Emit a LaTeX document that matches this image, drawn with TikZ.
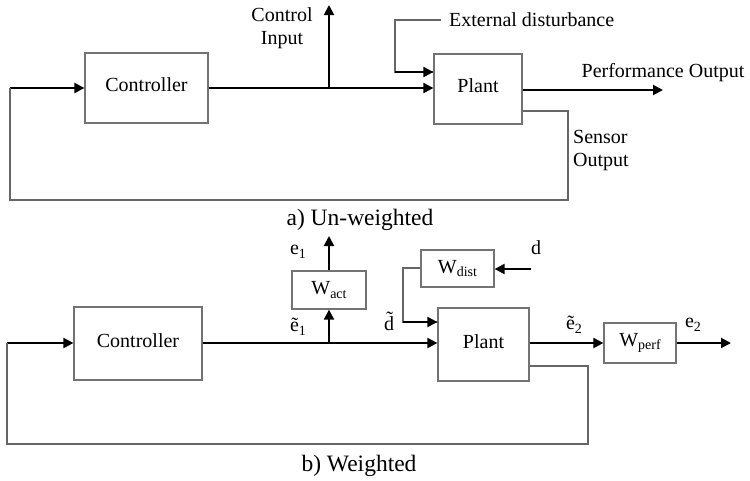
\documentclass[tikz,border=0pt]{standalone}
\usepackage{fontspec}
\setmainfont{Liberation Serif}
\usetikzlibrary{arrows.meta}
\newcommand\fsz{\fontsize{20}{23}\selectfont}
\newcommand\capsz{\fontsize{23.5}{26}\selectfont}
\newcommand\subs[1]{\raisebox{-3.5pt}{\fontsize{14}{14}\selectfont #1}}
\begin{document}
\begin{tikzpicture}[x=1pt,y=-1pt,
  blk/.style={draw=black!55,line width=1.2pt,inner sep=0pt,font=\fsz},
  sig/.style={line width=2pt,-{Triangle[length=10pt,width=10pt]}},
  wire/.style={line width=2pt},
  fb/.style={draw=black!60,line width=1.1pt},
  lbl/.style={font=\fsz,inner sep=0pt}]
\useasboundingbox (0,0) rectangle (750,480);
% ---------- a) un-weighted ----------
\node[blk,minimum width=123pt,minimum height=70pt] (c1) at (146.5,88) {\raisebox{6pt}{Controller}};
\node[blk,minimum width=88pt,minimum height=70pt] (p1) at (478,89) {\raisebox{6pt}{Plant}};
\coordinate (in1) at (10,88);
\coordinate (br1) at (329,88);
\coordinate (ci) at (329,5);
\coordinate (po) at (663,90);
\node[lbl,align=center] (cit) at (282,28) {Control\\Input};
\node[lbl,anchor=west,inner xsep=8pt] (ed) at (441,20) {External disturbance};
\node[lbl] (pot) at (663,73) {Performance Output};
\node[lbl,align=left,anchor=north west] (so) at (573,130) {Sensor\\Output};
\node[font=\capsz,inner sep=0pt] (cap1) at (360,220) {a) Un-weighted};
\draw[sig] (in1) -- (c1.west |- in1);
\draw[wire] (c1.east |- br1) -- (br1);
\draw[sig] (br1) -- (p1.west |- br1);
\draw[sig] (br1) -- (ci);
\draw[fb,line width=1.2pt] (ed.west) -- (395,20) |- (434,72);
\draw[sig] (395,72) -- (p1.west |- 0,72);
\draw[sig] (p1.east |- po) -- (po);
\draw[fb] (p1.east |- 0,111) -- (568,111) |- (10,200) -- (in1);
% ---------- b) weighted ----------
\node[blk,minimum width=128pt,minimum height=73pt] (c2) at (138,343.5) {\raisebox{6pt}{Controller}};
\node[blk,minimum width=91pt,minimum height=73pt] (p2) at (483.5,344.5) {\raisebox{6pt}{Plant}};
\node[blk,minimum width=74pt,minimum height=38pt] (wact) at (329,290) {W\subs{act}};
\node[blk,minimum width=73pt,minimum height=37pt] (wdist) at (457.5,268.5) {W\subs{dist}};
\node[blk,minimum width=72pt,minimum height=40pt] (wperf) at (640,343) {W\subs{perf}};
\coordinate (in2) at (7,343);
\coordinate (br2) at (329,343);
\coordinate (e1o) at (329,236);
\coordinate (din) at (531,269);
\coordinate (e2o) at (731,343);
\node[lbl] (e1) at (298,252) {e\subs{1}};
\node[lbl] (e1t) at (298,327) {\~{e}\subs{1}};
\node[lbl] (dl) at (536,248) {d};
\node[lbl] (dtl) at (389,321) {\~{d}};
\node[lbl] (e2t) at (574,325) {\~{e}\subs{2}};
\node[lbl] (e2) at (693,325) {e\subs{2}};
\node[font=\capsz,inner sep=0pt] (cap2) at (359,466) {b) Weighted};
\draw[sig] (in2) -- (c2.west |- in2);
\draw[wire] (c2.east |- br2) -- (br2);
\draw[sig] (br2) -- (p2.west |- br2);
\draw[sig] (br2) -- (wact.south);
\draw[sig] (wact.north) -- (e1o);
\draw[sig] (din) -- (wdist.east |- din);
\draw[fb,line width=1.2pt] (wdist.west |- 0,268) -- (403,268) |- (438,322);
\draw[sig] (403,322) -- (p2.west |- 0,322);
\draw[sig] (p2.east |- wperf.west) -- (wperf.west);
\draw[sig] (wperf.east) -- (e2o);
\draw[fb] (p2.east |- 0,366) -- (588,366) |- (7,444) -- (in2);
\end{tikzpicture}
\end{document}
